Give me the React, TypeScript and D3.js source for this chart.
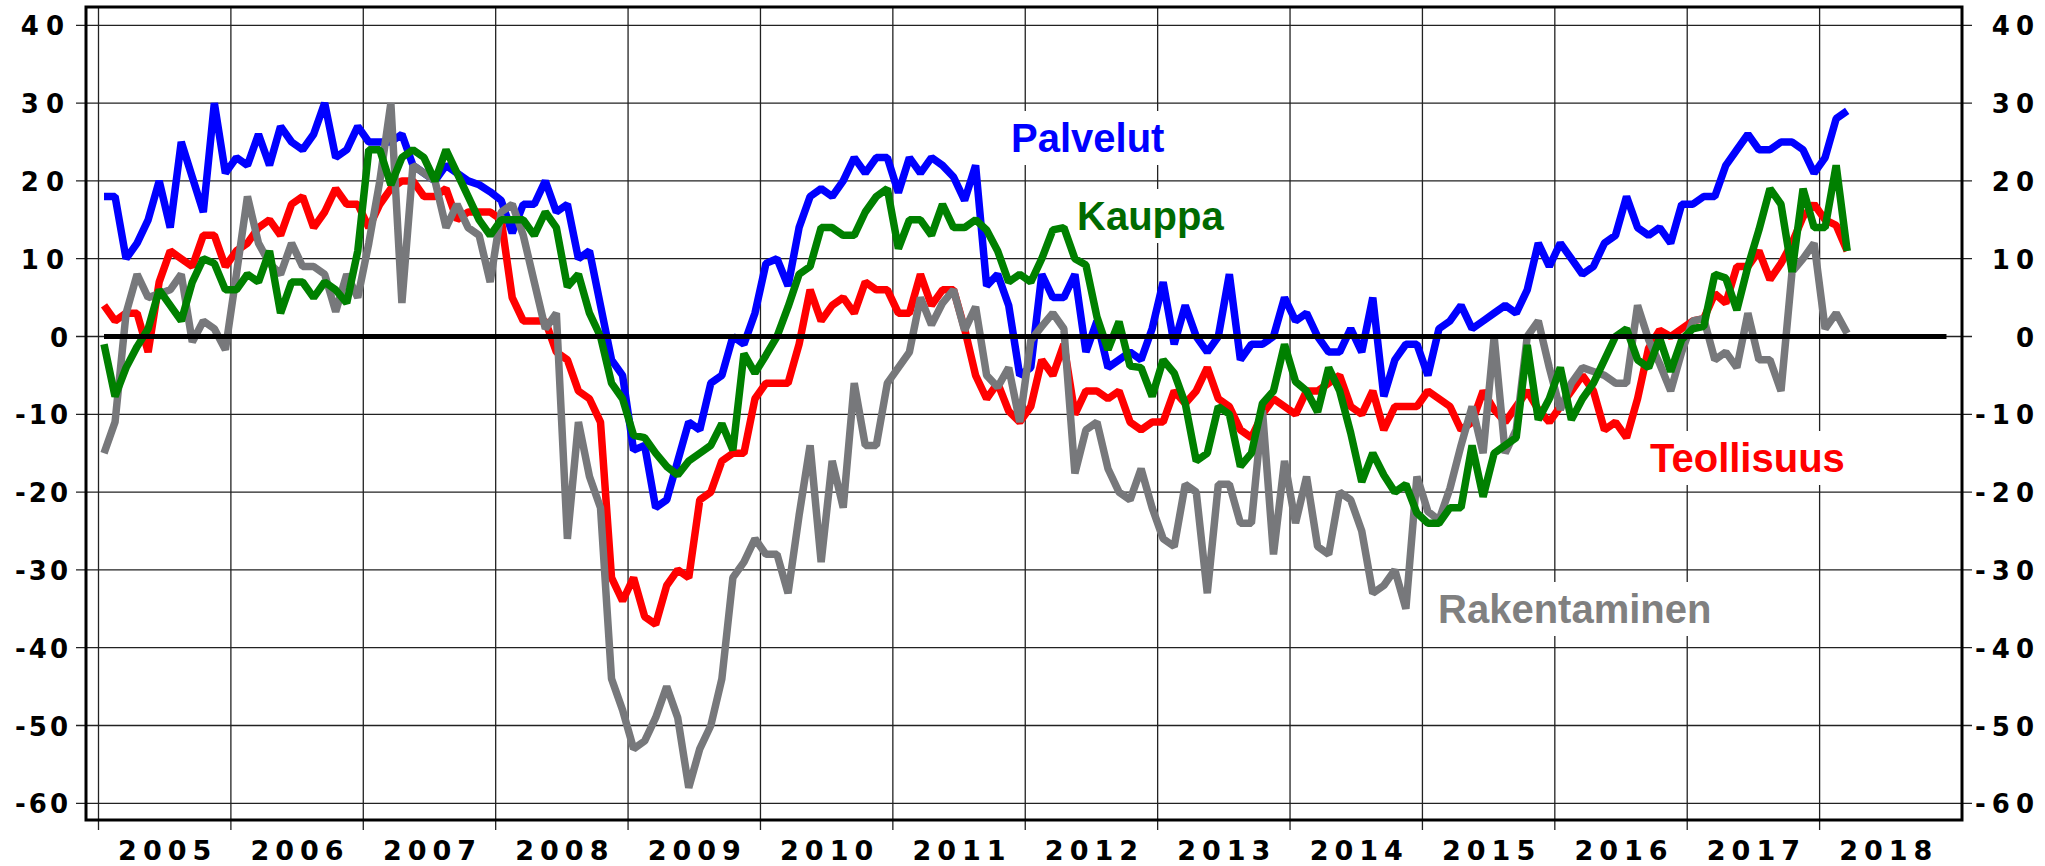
import React from 'react';
import * as d3 from 'd3';

// Monthly balance figures, Jan 2005 – Mar 2018
const years = [2005, 2006, 2007, 2008, 2009, 2010, 2011, 2012, 2013, 2014, 2015, 2016, 2017, 2018];
const yTicks = [40, 30, 20, 10, 0, -10, -20, -30, -40, -50, -60];

const palvelut = [
  18, 18, 10, 12, 15, 20, 14, 25, 20.5, 16, 30, 21,
  23, 22, 26, 22, 27, 25, 24, 26, 30, 23, 24, 27,
  25, 25, 25, 26, 22, 21, 20, 22, 21, 20, 19.5, 18.6,
  17.5, 13.3, 17, 17, 20, 16, 17, 10, 11, 4, -3, -5,
  -14.6, -14, -22, -21, -16, -11, -12, -6, -5, 0, -1, 3,
  9.4, 10, 6.5, 14, 18, 19, 18, 20, 23, 21, 23, 23,
  18.5, 23, 21, 23, 22, 20.5, 17.5, 22, 6.5, 8, 4, -5,
  -4, 8, 5, 5, 8, -2, 2, -4, -3, -2, -3, 1,
  7, -1, 4, 0, -2, 0, 8, -3, -1, -1, 0, 5,
  2, 3, 0, -2, -2, 1, -2, 5, -7.7, -3, -1, -1,
  -5, 1, 2, 4, 1, 2, 3, 4, 3, 6, 12, 9,
  12, 10, 8, 9, 12, 13, 18, 14, 13, 14, 12, 17,
  17, 18, 18, 22, 24, 26, 24, 24, 25, 25, 24, 21,
  23, 28, 29,
];

const teollisuus = [
  4, 2, 3, 3, -2, 7, 11, 10, 9, 13, 13, 9,
  11, 12, 14, 15, 13, 17, 18, 14, 16, 19, 17, 17,
  14, 17, 19, 20, 20, 18, 18, 19, 15, 16, 16, 16,
  15, 5, 2, 2, 2, -2, -3, -7, -8, -11, -31, -34,
  -31, -36, -37, -32, -30, -31, -21, -20, -16, -15, -15, -8,
  -6, -6, -6, -1, 6, 2, 4, 5, 3, 7, 6, 6,
  3, 3, 8, 4, 6, 6, 1, -5, -8, -6, -9.6, -11,
  -9, -3, -5, -1, -10, -7, -7, -8, -7, -11, -12, -11,
  -11, -7, -8.6, -7, -4, -8, -9, -12, -13, -10, -8, -9,
  -10, -7, -7, -6, -5, -9, -10, -7, -12, -9, -9, -9,
  -7, -8, -9, -12, -11, -7, -9.4, -11, -9, -7, -9.4, -11,
  -9, -7, -5, -7, -12, -11, -13, -8, -1.5, 0.8, 0, 1,
  2, 2.3, 5.5, 4.3, 9, 9, 11, 7.3, 9.4, 12, 15.4, 17,
  15, 14.3, 11,
];

const kauppa = [
  -1, -7.7, -4, -1.3, 1, 6, 4, 2, 7, 10, 9.4, 6,
  6, 8, 7, 11, 3, 7, 7, 5, 7, 6, 4.3, 11,
  24, 24, 19.5, 23, 24, 23, 20, 24, 21, 18, 15, 13,
  15, 15, 15, 13, 16, 14, 6.4, 8, 3, 0, -6, -8,
  -12.7, -13, -15, -16.7, -17.8, -16, -15, -14, -11.2, -14.6, -2.2, -4.7,
  -2.4, 0, 3.8, 8, 9, 14, 14, 13, 13, 16, 18, 19,
  11.3, 15, 15, 13, 17, 14, 14, 15, 13.7, 11, 7, 8,
  7, 10, 13.7, 14, 10, 9.2, 2.5, -1.7, 1.9, -3.8, -4, -7.7,
  -3, -4.7, -8.6, -16, -15, -9, -10, -16.7, -15, -8.6, -7, -1,
  -5.8, -7, -9.7, -4, -7, -12.4, -18.7, -15, -17.8, -20, -19, -22.7,
  -24, -24, -22, -22, -14, -20.6, -15, -14, -13, -1.1, -10.7, -8,
  -4, -10.7, -8, -6, -3, 0, 1, -3, -4, -0.2, -4.5, -0.4,
  1, 1.3, 8, 7.5, 3.4, 9, 13.7, 19, 17, 8.3, 19, 14,
  14, 22, 11,
];

const rakentaminen = [
  -15, -11, 3, 8, 5, 5.5, 6, 8, -0.7, 2, 1, -1.7,
  8, 18, 12, 9.4, 8, 12, 9, 9, 8, 3.2, 8, 5,
  12, 20, 30, 4.3, 22, 21, 20, 14, 17, 14, 13, 7,
  16, 17, 13, 7, 1, 3, -26, -11, -18, -22, -44, -48,
  -53, -52, -49, -45, -49, -58, -53, -50, -44, -31, -29, -26,
  -28, -28, -33, -23, -14, -29, -16, -22, -6, -14, -14, -6,
  -4, -2, 5, 1.5, 4.3, 6, 0.8, 3.8, -5, -6.5, -4, -11,
  -0.5, 1.3, 3, 1, -17.6, -12, -11, -17, -20, -21, -17, -22,
  -26, -27, -19, -20, -33, -19, -19, -24, -24, -9.5, -28, -16,
  -24, -18, -27, -28, -20, -21, -25, -33, -32, -30, -35, -18,
  -22.5, -23.6, -19.5, -14, -9, -15, 0, -15, -12, 0, 2, -4,
  -9.4, -6, -4, -4.5, -5, -6, -6, 4, -0.4, -3.5, -7, -2,
  2, 2.3, -3, -2, -4, 3, -3, -3, -7, 8.3, 10, 12,
  1, 3, 0.4,
];

const seriesList = [
  { name: 'Palvelut', values: palvelut, color: '#0000ff' },
  { name: 'Teollisuus', values: teollisuus, color: '#ff0000' },
  { name: 'Rakentaminen', values: rakentaminen, color: '#77787b' },
  { name: 'Kauppa', values: kauppa, color: '#008000' },
];

const seriesLabels = [
  { text: 'Palvelut', color: '#0000ff', x: 1011, y: 152, w: 155 },
  { text: 'Kauppa', color: '#006a00', x: 1077, y: 230, w: 144 },
  { text: 'Teollisuus', color: '#ff0000', x: 1650, y: 472, w: 198 },
  { text: 'Rakentaminen', color: '#808080', x: 1438, y: 623, w: 276 },
];

export default function App() {
  const W = 2045;
  const H = 866;
  const left = 86;
  const right = 1962;
  const top = 7;
  const bottom = 820;

  const x = d3.scaleLinear().domain([-0.5, 167.5]).range([98.5, 1952]);
  const y = d3.scaleLinear().domain([-60, 40]).range([803.3, 25.3]);

  const line = d3
    .line<number>()
    .x((_, i) => x(i))
    .y((d) => y(d));

  const tickFont = "'DejaVu Sans', sans-serif";
  const labelFont = "'Liberation Sans', Arial, sans-serif";

  return (
    <svg
      width={W}
      height={H}
      style={{ position: 'absolute', left: 0, top: 0, background: '#fff' }}
    >
      <rect x={0} y={0} width={W} height={H} fill="#fff" />
      {yTicks.map((v) => (
        <line
          key={'h' + v}
          x1={76}
          x2={1972}
          y1={y(v)}
          y2={y(v)}
          stroke="#222"
          strokeWidth={1.3}
        />
      ))}
      {years.map((yr, k) => {
        const gx = x(-0.5 + 12 * k);
        return (
          <line
            key={'v' + yr}
            x1={gx}
            x2={gx}
            y1={top}
            y2={bottom + 10}
            stroke="#222"
            strokeWidth={1.3}
          />
        );
      })}
      {seriesLabels.map((l) => (
        <rect
          key={'bg' + l.text}
          x={l.x - 10}
          y={l.y - 41}
          width={l.w + 20}
          height={54}
          fill="#fff"
        />
      ))}
      {seriesList.map((s) => (
        <path
          key={s.name}
          d={line(s.values) || ''}
          fill="none"
          stroke={s.color}
          strokeWidth={7.5}
          strokeLinejoin="bevel"
        />
      ))}
      <line
        x1={x(0)}
        x2={x(167)}
        y1={y(0)}
        y2={y(0)}
        stroke="#000"
        strokeWidth={5}
      />
      <rect
        x={left}
        y={top}
        width={right - left}
        height={bottom - top}
        fill="none"
        stroke="#000"
        strokeWidth={3}
      />
      {yTicks.map((v) => (
        <g key={'yl' + v}>
          <text
            x={71}
            y={y(v) + 10}
            textAnchor="end"
            fontFamily={tickFont}
            fontWeight="bold"
            fontSize={26}
            letterSpacing={v > 0 ? 7 : 3}
            fill="#000"
          >
            {String(v)}
          </text>
          <text
            x={2040}
            y={y(v) + 10}
            textAnchor="end"
            fontFamily={tickFont}
            fontWeight="bold"
            fontSize={26}
            letterSpacing={6}
            fill="#000"
          >
            {String(v)}
          </text>
        </g>
      ))}
      {years.map((yr, k) => (
        <text
          key={'xl' + yr}
          x={x(5.5 + 12 * k) + 3}
          y={860}
          textAnchor="middle"
          fontFamily={tickFont}
          fontWeight="bold"
          fontSize={27}
          letterSpacing={6}
          fill="#000"
        >
          {String(yr)}
        </text>
      ))}
      {seriesLabels.map((l) => (
        <text
          key={'t' + l.text}
          x={l.x}
          y={l.y}
          fontFamily={labelFont}
          fontWeight="bold"
          fontSize={40}
          fill={l.color}
        >
          {l.text}
        </text>
      ))}
    </svg>
  );
}
